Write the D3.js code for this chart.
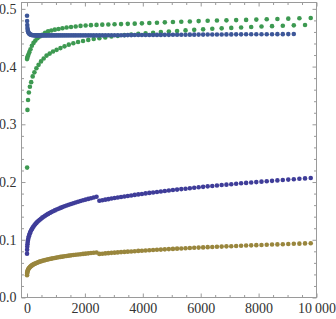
<!DOCTYPE html>
<html>
<head>
<meta charset="utf-8">
<script src="https://cdn.jsdelivr.net/npm/d3@7"></script>
<style>
  body { margin: 0; background: #fff; }
  svg { display: block; }
  svg text { font-family: "Liberation Serif", "Times New Roman", Times, serif !important; font-size: 14px !important; }
</style>
</head>
<body>
<div id="chart"></div>
<script>
// x positions shared by all series
const xs = [1,4,9,16,25,36,49,64,81,100,121,144,169,196,225,256,289,324,361,400,441,484,529,576,625,676,729,784,841,900,961,1024,1089,1156,1225,1296,1369,1444,1521,1600,1681,1764,1849,1936,2025,2116,2209,2304,2401,2500,2601,2704,2809,2916,3025,3136,3249,3364,3481,3600,3721,3844,3969,4096,4225,4356,4489,4624,4761,4900,5041,5184,5329,5476,5625,5776,5929,6084,6241,6400,6561,6724,6889,7056,7225,7396,7569,7744,7921,8100,8281,8464,8649,8836,9025,9216,9409,9604,9801];

const lowerBlue = [0.0760,0.0828,0.0880,0.0924,0.0963,0.0998,0.1030,0.1060,0.1088,0.1115,0.1140,0.1164,0.1187,0.1210,0.1231,0.1252,0.1272,0.1292,0.1311,0.1329,0.1348,0.1365,0.1383,0.1399,0.1416,0.1432,0.1448,0.1464,0.1479,0.1494,0.1509,0.1524,0.1538,0.1552,0.1566,0.1580,0.1594,0.1607,0.1620,0.1633,0.1646,0.1659,0.1671,0.1684,0.1696,0.1708,0.1720,0.1732,0.1744,
  0.1676,0.1685,0.1695,0.1704,0.1714,0.1723,0.1732,0.1741,0.1750,0.1759,0.1768,0.1777,0.1786,0.1794,0.1803,0.1812,0.1820,0.1828,0.1837,0.1845,0.1853,0.1861,0.1869,0.1878,0.1885,0.1893,0.1901,0.1909,0.1917,0.1925,0.1932,0.1940,0.1948,0.1955,0.1963,0.1970,0.1978,0.1985,0.1992,0.1999,0.2007,0.2014,0.2021,0.2028,0.2035,0.2042,0.2049,0.2056,0.2063,0.2070];

const olive = [0.0385,0.0412,0.0433,0.0451,0.0466,0.0480,0.0493,0.0505,0.0516,0.0527,0.0537,0.0547,0.0556,0.0565,0.0574,0.0582,0.0590,0.0598,0.0606,0.0613,0.0621,0.0628,0.0635,0.0641,0.0648,0.0655,0.0661,0.0667,0.0673,0.0679,0.0685,0.0691,0.0697,0.0703,0.0708,0.0714,0.0719,0.0725,0.0730,0.0735,0.0740,0.0745,0.0750,0.0755,0.0760,0.0765,0.0770,0.0775,0.0780,
  0.0755,0.0759,0.0764,0.0768,0.0773,0.0777,0.0781,0.0786,0.0790,0.0794,0.0798,0.0802,0.0807,0.0811,0.0815,0.0819,0.0823,0.0827,0.0830,0.0834,0.0838,0.0842,0.0846,0.0850,0.0853,0.0857,0.0861,0.0864,0.0868,0.0872,0.0875,0.0879,0.0882,0.0886,0.0889,0.0893,0.0896,0.0900,0.0903,0.0907,0.0910,0.0913,0.0917,0.0920,0.0923,0.0927,0.0930,0.0933,0.0937,0.0940];

// odd indices (1st, 3rd, ...) and even indices (2nd, 4th, ...) of the green series
const greenOdd = [0.413,0.415,0.418,0.421,0.425,0.430,0.436,0.441,0.445,0.449,0.452,0.455,0.4585,0.461,0.4625,0.464,0.4652,0.4665,0.4676,0.4686,0.4695,0.4705,0.4712,0.4718,0.4722,0.4726,0.4730,0.4733,0.4736,0.4740,0.4744,0.4749,0.4755,0.4760,0.4766,0.4771,0.4777,0.4782,0.4788,0.4793,0.4797,0.4801,0.4805,0.4809,0.4814,0.4819,0.4824,0.4830,0.4836,0.4842];
const greenEven = [0.225,0.325,0.342,0.355,0.365,0.373,0.383,0.390,0.397,0.403,0.409,0.414,0.419,0.4225,0.426,0.429,0.432,0.435,0.438,0.4405,0.4425,0.4444,0.4462,0.4478,0.4490,0.4505,0.4520,0.4532,0.4545,0.4555,0.4566,0.4577,0.4587,0.4597,0.4607,0.4617,0.4627,0.4636,0.4645,0.4654,0.4662,0.4670,0.4678,0.4686,0.4693,0.4700,0.4707,0.4714,0.4720];

const upperBlue = [0.488,0.479,0.472,0.467,0.4635,0.461,0.459,0.4577,0.4567,0.456,0.4555,0.455,0.4547,0.4544,0.4542,0.4541,0.4540,0.4540,0.4540,0.4540,0.4540,0.4540,0.4540,0.4540,0.4540,0.4540,0.4540,0.4540,0.4540,0.4540,0.4540,0.4540,0.4540,0.4540,0.4540,0.4540,0.4540,0.4540,0.4540,0.4540,0.4540,0.4540,0.4540,0.4540,0.4540,0.4540,0.4540,0.4540,0.4540,0.4540,
  0.4541,0.4541,0.4542,0.4542,0.4543,0.4543,0.4544,0.4544,0.4545,0.4545,0.4546,0.4546,0.4547,0.4547,0.4548,0.4548,0.4549,0.4549,0.4550,0.4550,0.4551,0.4551,0.4552,0.4552,0.4553,0.4553,0.4554,0.4554,0.4555,0.4555,0.4556,0.4556,0.4557,0.4557,0.4558,0.4558,0.4559,0.4559,0.4560,0.4560,0.4561,0.4561,0.4562,0.4562,0.4563,0.4564];

const xMajor = [0, 2000, 4000, 6000, 8000, 10000];
const xLabels = ["0", "2000", "4000", "6000", "8000", "10\u2009000"];
const yMajor = [0, 0.1, 0.2, 0.3, 0.4, 0.5];
const yLabels = ["0.0", "0.1", "0.2", "0.3", "0.4", "0.5"];

const width = 336, height = 319;
const margin = { top: 2.5, right: 19.5, bottom: 21.5, left: 21.5 };

const svg = d3.select("#chart").append("svg")
  .attr("width", width)
  .attr("height", height);

const x = d3.scaleLinear().domain([-190, 10000]).range([margin.left, width - margin.right]);
const y = d3.scaleLinear().domain([0, 0.511]).range([height - margin.bottom, margin.top]);

const xMinor = d3.range(0, 10001, 500).filter(v => !xMajor.includes(v));
const yMinor = d3.range(0, 51, 2).map(v => v / 100).filter(v => Math.round(v * 100) % 10 !== 0);

// ticks on all four sides, pointing inward
function addAxis(axisFn, scale, transform, values, size, labels) {
  const ax = axisFn(scale).tickValues(values).tickSize(-size).tickPadding(axisFn === d3.axisBottom ? 6 : 5);
  ax.tickFormat(labels ? (d, i) => labels[i] : "");
  const g = svg.append("g").attr("transform", transform).call(ax);
  g.select(".domain").remove();
  g.selectAll(".tick line").attr("stroke", "#9a9a9a");
  g.selectAll(".tick text")
    .attr("fill", "#333")
    .style("font-family", "Liberation Serif")
    .style("font-size", "14px");
  return g;
}
const bottomY = height - margin.bottom, rightX = width - margin.right;
addAxis(d3.axisBottom, x, `translate(0,${bottomY})`, xMajor, 4, xLabels);
addAxis(d3.axisBottom, x, `translate(0,${bottomY})`, xMinor, 2.5);
addAxis(d3.axisTop, x, `translate(0,${margin.top})`, xMajor, 4);
addAxis(d3.axisTop, x, `translate(0,${margin.top})`, xMinor, 2.5);
addAxis(d3.axisLeft, y, `translate(${margin.left},0)`, yMajor, 4, yLabels);
addAxis(d3.axisLeft, y, `translate(${margin.left},0)`, yMinor, 2.5);
addAxis(d3.axisRight, y, `translate(${rightX},0)`, yMajor, 4);
addAxis(d3.axisRight, y, `translate(${rightX},0)`, yMinor, 2.5);

svg.append("rect")
  .attr("x", margin.left).attr("y", margin.top)
  .attr("width", rightX - margin.left).attr("height", bottomY - margin.top)
  .attr("fill", "none").attr("stroke", "#9a9a9a");

const series = [
  { color: "#3f3d99", pts: lowerBlue.map((v, i) => [xs[i], v]) },
  { color: "#99863d", pts: olive.map((v, i) => [xs[i], v]) },
  { color: "#3d9951", pts: greenOdd.map((v, i) => [xs[2 * i], v]).concat(greenEven.map((v, i) => [xs[2 * i + 1], v])) },
  { color: "#3d5799", pts: upperBlue.map((v, i) => [xs[i], v]) }
];

const plot = svg.append("g");
series.forEach(s => {
  plot.append("g").attr("fill", s.color)
    .selectAll("circle")
    .data(s.pts)
    .join("circle")
    .attr("cx", d => x(d[0]))
    .attr("cy", d => y(d[1]))
    .attr("r", 2.3);
});
</script>
</body>
</html>
